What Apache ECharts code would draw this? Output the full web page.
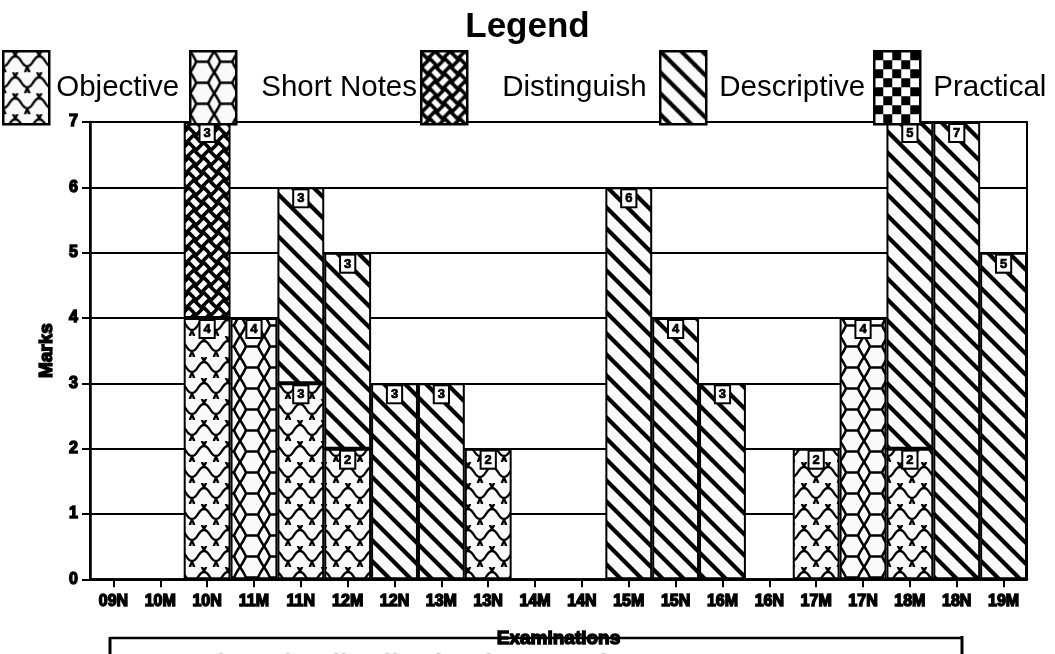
<!DOCTYPE html>
<html>
<head>
<meta charset="utf-8">
<script src="https://cdn.jsdelivr.net/npm/echarts@6/dist/echarts.min.js"></script>
<style>html,body{margin:0;padding:0;background:#fff}#c{width:1055px;height:654px}</style>
</head>
<body>
<div id="c"></div>
<script>
var categories = ['09N','10M','10N','11M','11N','12M','12N','13M','13N','14M','14N','15M','15N','16M','16N','17M','17N','18M','18N','19M'];
var objective   = [null,null,4,null,3,2,null,null,2,null,null,null,null,null,null,2,null,2,null,null];
var shortNotes  = [null,null,null,4,null,null,null,null,null,null,null,null,null,null,null,null,4,null,null,null];
var distinguish = [null,null,3,null,null,null,null,null,null,null,null,null,null,null,null,null,null,null,null,null];
var descriptive = [null,null,null,null,3,3,3,3,null,null,null,6,4,3,null,null,null,5,7,5];
var practical   = [null,null,null,null,null,null,null,null,null,null,null,null,null,null,null,null,null,null,null,null];
var seriesNames = ['Objective','Short Notes','Distinguish','Descriptive','Practical'];
var yTicks = [0,1,2,3,4,5,6,7];

function tile(w,h,bg,draw){var c=document.createElement('canvas');c.width=w;c.height=h;var g=c.getContext('2d');g.fillStyle=bg;g.fillRect(0,0,w,h);draw(g);return {image:c,repeat:'repeat'};}

var patObjective = tile(24,21,'#fafafa',function(g){
  g.strokeStyle='#000';g.lineWidth=2.4;g.beginPath();
  g.moveTo(0,15);g.bezierCurveTo(6,15,6,5,12,5);g.bezierCurveTo(18,5,18,15,24,15);
  g.moveTo(12,5);g.bezierCurveTo(12,3,10,1,10,0);g.moveTo(12,5);g.bezierCurveTo(12,3,14,1,14,0);
  g.moveTo(0,15);g.bezierCurveTo(0,17,2,19,2,21);g.moveTo(24,15);g.bezierCurveTo(24,17,22,19,22,21);
  g.stroke();
});
var patShort = tile(24,21,'#fafafa',function(g){
  g.strokeStyle='#000';g.lineWidth=2.6;g.beginPath();
  g.moveTo(0,0);g.quadraticCurveTo(4,6,6,10.5);g.quadraticCurveTo(4,15,0,21);
  g.moveTo(24,0);g.quadraticCurveTo(20,6,18,10.5);g.quadraticCurveTo(20,15,24,21);
  g.moveTo(6,10.5);g.lineTo(18,10.5);
  g.stroke();
});
var patDist = tile(30,30,'#000',function(g){
  var u=30/(2*Math.SQRT2);
  g.save();g.translate(15,15);g.rotate(Math.PI/4);g.fillStyle='#fff';
  for(var i=-5;i<=5;i++){for(var j=-5;j<=5;j++){
    var x=i*u,y=j*u;
    if(((i+j)%2+2)%2===0){g.fillRect(x+1,y+u*0.25,u-2,u*0.5);}else{g.fillRect(x+u*0.25,y+1,u*0.5,u-2);}
  }}
  g.restore();
});
var patDesc = tile(21,21,'#fafafa',function(g){
  g.strokeStyle='#000';g.lineWidth=4.2;g.beginPath();
  for(var k=-1;k<=1;k++){g.moveTo(-5,-5+21*k);g.lineTo(26,26+21*k);}
  g.stroke();
});
var patPract = tile(18,18,'#fff',function(g){
  g.fillStyle='#000';g.fillRect(0,0,9,9);g.fillRect(9,9,9,9);
});
var patterns=[patObjective,patShort,patDist,patDesc,patPract];
var dataArr=[objective,shortNotes,distinguish,descriptive,practical];

var boldTxt={fontFamily:'Liberation Sans',fontWeight:'bold',color:'#000',textBorderColor:'#000',textBorderWidth:1.4};

var series=seriesNames.map(function(n,i){
  return {
    name:n,type:'bar',stack:'all',barCategoryGap:'0%',data:dataArr[i],
    itemStyle:{color:patterns[i],borderColor:'#000',borderWidth:2},
    emphasis:{disabled:true},
    label:{show:true,position:'insideTop',distance:3,fontFamily:'Liberation Sans',fontWeight:'bold',fontSize:13,color:'#000',
      textBorderColor:'#000',textBorderWidth:0.7,
      backgroundColor:'#fff',borderColor:'#000',borderWidth:2,padding:[2,3,1,3],
      formatter:function(p){return p.value==null?'':String(p.value);}}
  };
});

var legendLeft=[2,189,420,659,873];
var legendPad=[2,20,30,8,8];
var legends=seriesNames.map(function(n,i){
  return {data:[n],top:50,left:legendLeft[i],padding:0,itemWidth:46,itemHeight:73,icon:'rect',
    itemStyle:{borderColor:'#000',borderWidth:2.5},
    textStyle:{fontFamily:'Liberation Sans',fontSize:29.5,color:'#000',padding:[0,0,0,legendPad[i]]}};
});

var chart=echarts.init(document.getElementById('c'),null,{renderer:'canvas'});
chart.setOption({
  animation:false,
  backgroundColor:'#fff',
  title:{text:'Legend',left:'center',top:5,textStyle:{fontFamily:'Liberation Sans',fontWeight:'bold',fontSize:35,color:'#000'}},
  legend:legends,
  grid:{left:90,right:28,top:122,bottom:66,show:true,borderColor:'#000',borderWidth:2,backgroundColor:'transparent'},
  xAxis:{type:'category',data:categories,
    name:'Examinations',nameLocation:'middle',nameGap:50,
    nameTextStyle:Object.assign({fontSize:19},boldTxt),
    axisLine:{lineStyle:{color:'#000',width:2.5}},
    axisTick:{show:true,alignWithLabel:true,length:8,lineStyle:{color:'#000',width:2}},
    axisLabel:Object.assign({fontSize:16,margin:14},boldTxt),
    splitLine:{show:false}},
  yAxis:{type:'value',min:0,max:7,interval:1,
    name:'Marks',nameLocation:'middle',nameGap:34,
    nameTextStyle:Object.assign({fontSize:19},boldTxt),
    axisLine:{show:true,lineStyle:{color:'#000',width:2.5}},
    axisTick:{show:true,length:8,lineStyle:{color:'#000',width:2}},
    axisLabel:Object.assign({fontSize:16,margin:12,formatter:function(v){return yTicks.indexOf(v)>=0?String(v):'';}},boldTxt),
    splitLine:{show:true,lineStyle:{color:'#000',width:2}}},
  graphic:[
    {type:'line',shape:{x1:110,y1:638,x2:962,y2:638},style:{stroke:'#000',lineWidth:2.5},z:-1},
    {type:'line',shape:{x1:110,y1:637,x2:110,y2:654},style:{stroke:'#000',lineWidth:3}},
    {type:'line',shape:{x1:962,y1:636,x2:962,y2:654},style:{stroke:'#000',lineWidth:3}},
    {type:'text',left:160,top:651,style:{text:'Total marks distribution by question type',font:'bold 28px "Liberation Sans"',fill:'#ccc'}}
  ],
  series:series
});
</script>
</body>
</html>
